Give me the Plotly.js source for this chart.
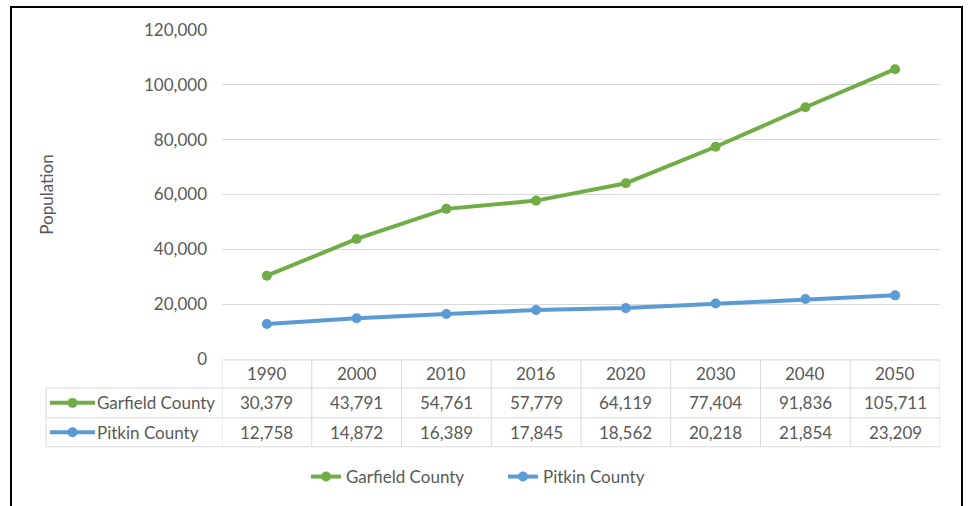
<!DOCTYPE html>
<html>
<head>
<meta charset="utf-8">
<script src="https://cdn.plot.ly/plotly-3.0.1.min.js"></script>
<style>
  html, body { margin: 0; padding: 0; background: #fff; }
  #wrap { position: relative; width: 969px; height: 506px; overflow: hidden; }
  #chart { width: 969px; height: 506px; }
  #frame { position: absolute; left: 10px; top: 6px; width: 949px; height: 520px;
           border: 2px solid #000; pointer-events: none; }
</style>
</head>
<body>
<div id="wrap">
  <div id="chart"></div>
  <div id="frame"></div>
</div>
<script>
const years = ['1990', '2000', '2010', '2016', '2020', '2030', '2040', '2050'];
const seriesNames = ['Garfield County', 'Pitkin County'];
const garfield = [30379, 43791, 54761, 57779, 64119, 77404, 91836, 105711];
const pitkin = [12758, 14872, 16389, 17845, 18562, 20218, 21854, 23209];
const colors = ['#70ad47', '#5b9bd5'];

const FONT = 'Lato, "Open Sans", sans-serif';
const FS = 17;
const TXT = '#595959';
const GRID = '#d9d9d9';

const W = 969, H = 506;
const M = {l: 222, r: 29, t: 30, b: 146};
const pw = W - M.l - M.r, ph = H - M.t - M.b;
const px = x => (x - M.l) / pw;          // pixel x -> paper x
const py = y => (H - M.b - y) / ph;      // pixel y -> paper y

const fmt = v => v.toLocaleString('en-US');
const values = [garfield, pitkin];

const traces = seriesNames.map((name, i) => ({
  type: 'scatter', mode: 'lines+markers', name: name,
  x: years, y: values[i],
  line: {color: colors[i], width: 4},
  marker: {color: colors[i], size: 10},
  hoverinfo: 'skip'
}));

// data table (below plot)
const rowTop = [361, 389, 419, 448];
const shapes = [];
const annotations = [];
const line = {color: GRID, width: 1};
shapes.push({type: 'line', xref: 'x', yref: 'paper', x0: -0.5, x1: years.length - 0.5, y0: py(rowTop[0]), y1: py(rowTop[0]), line});
for (let k = 1; k < rowTop.length; k++) {
  shapes.push({type: 'line', xref: 'paper', yref: 'paper', x0: px(46), x1: 1, y0: py(rowTop[k]), y1: py(rowTop[k]), line});
}
for (let i = 0; i <= years.length; i++) {
  shapes.push({type: 'line', xref: 'x', yref: 'paper', x0: i - 0.5, x1: i - 0.5, y0: py(rowTop[0]), y1: py(rowTop[3]), line});
}
shapes.push({type: 'line', xref: 'paper', yref: 'paper', x0: px(46), x1: px(46), y0: py(rowTop[1]), y1: py(rowTop[3]), line});

const rowMid = [375, 404, 433.5];
const cellFont = {family: FONT, size: FS, color: TXT};
years.forEach((yr, i) => {
  annotations.push({xref: 'x', yref: 'paper', x: i, y: py(rowMid[0]), text: yr, showarrow: false,
    font: cellFont, xanchor: 'center', yanchor: 'middle'});
  values.forEach((arr, s) => {
    annotations.push({xref: 'x', yref: 'paper', x: i, y: py(rowMid[s + 1]), text: fmt(arr[i]), showarrow: false,
      font: cellFont, xanchor: 'center', yanchor: 'middle'});
  });
});
seriesNames.forEach((name, s) => {
  const yc = rowMid[s + 1];
  annotations.push({xref: 'paper', yref: 'paper', x: px(95), y: py(yc), text: name, showarrow: false,
    font: cellFont, xanchor: 'left', yanchor: 'middle'});
  shapes.push({type: 'line', xref: 'paper', yref: 'paper', x0: px(50), x1: px(95), y0: py(yc), y1: py(yc),
    line: {color: colors[s], width: 4}});
  shapes.push({type: 'circle', xref: 'paper', yref: 'paper', x0: px(67.5), x1: px(77.5), y0: py(yc + 5), y1: py(yc - 5),
    fillcolor: colors[s], line: {color: colors[s], width: 0}});
});

const layout = {
  width: W, height: H,
  margin: M,
  paper_bgcolor: '#fff', plot_bgcolor: '#fff',
  showlegend: true,
  legend: {orientation: 'h', x: px(306), xanchor: 'left', y: py(477), yanchor: 'middle',
    font: {family: FONT, size: FS, color: TXT}, traceorder: 'normal', entrywidth: 152},
  xaxis: {type: 'category', range: [-0.5, years.length - 0.5], showticklabels: false,
    showgrid: false, zeroline: false, showline: false, ticks: '', fixedrange: true},
  yaxis: {range: [0, 120000], dtick: 20000, tickformat: ',d', showgrid: true, gridcolor: GRID, gridwidth: 1,
    zeroline: false, showline: false, ticks: '', ticklabelstandoff: 14,
    tickfont: {family: FONT, size: FS, color: TXT},
    title: {text: 'Population', font: {family: FONT, size: FS, color: TXT}, standoff: 86},
    fixedrange: true},
  shapes, annotations
};

Plotly.newPlot('chart', traces, layout, {displayModeBar: false, staticPlot: true});
</script>
</body>
</html>
